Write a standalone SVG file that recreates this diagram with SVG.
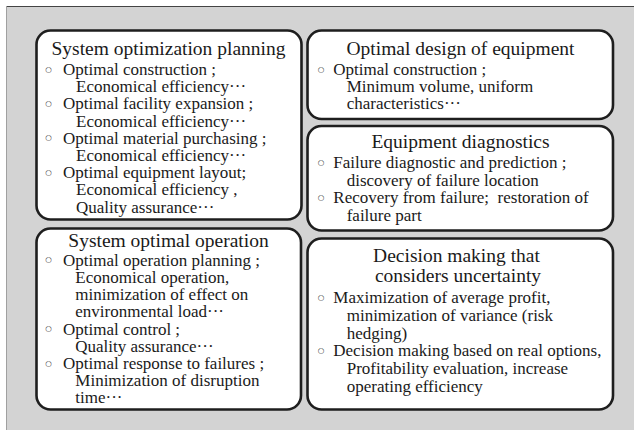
<svg xmlns="http://www.w3.org/2000/svg" width="634" height="430" viewBox="0 0 634 430">
<style>
.box{fill:#ffffff;stroke:#1e1e1e;stroke-width:2.6}
.t{fill:#1a1a1a;font-size:19.5px;text-anchor:middle}
.b{fill:#1a1a1a;font-size:17px}
.o{fill:#333;font-size:7.5px;text-anchor:middle;dominant-baseline:central}
</style>
<rect x="6" y="6" width="628" height="424" fill="#d3d3d3"/>
<line x1="6" y1="6.5" x2="634" y2="6.5" stroke="#444" stroke-width="1.2"/>
<line x1="6.5" y1="6" x2="6.5" y2="430" stroke="#a0a0a0" stroke-width="1"/>

<g font-family="Liberation Serif, DejaVu Serif, serif">
<g id="system-optimization-planning">
<rect class="box" x="36.5" y="30.5" width="265" height="189" rx="14"/>
<text class="t" x="168.5" y="55">System optimization planning</text>
<text class="o" font-family="DejaVu Sans, sans-serif" x="48.5" y="69">○</text>
<text class="b" x="63" y="75">Optimal construction ;</text>
<text class="b" x="76" y="92.2">Economical efficiency···</text>
<text class="o" font-family="DejaVu Sans, sans-serif" x="48.5" y="103.4">○</text>
<text class="b" x="63" y="109.4">Optimal facility expansion ;</text>
<text class="b" x="76" y="126.6">Economical efficiency···</text>
<text class="o" font-family="DejaVu Sans, sans-serif" x="48.5" y="137.8">○</text>
<text class="b" x="63" y="143.8">Optimal material purchasing ;</text>
<text class="b" x="76" y="161">Economical efficiency···</text>
<text class="o" font-family="DejaVu Sans, sans-serif" x="48.5" y="172.2">○</text>
<text class="b" x="63" y="178.2">Optimal equipment layout;</text>
<text class="b" x="76" y="195.4">Economical efficiency ,</text>
<text class="b" x="76" y="212.6">Quality assurance···</text>
</g>

<g id="optimal-design-of-equipment">
<rect class="box" x="307.5" y="30.5" width="305.5" height="88.5" rx="14"/>
<text class="t" x="460.5" y="55">Optimal design of equipment</text>
<text class="o" font-family="DejaVu Sans, sans-serif" x="321" y="69">○</text>
<text class="b" x="333.3" y="75">Optimal construction ;</text>
<text class="b" x="346.7" y="92.2">Minimum volume, uniform</text>
<text class="b" x="346.7" y="109.4">characteristics···</text>
</g>

<g id="equipment-diagnostics">
<rect class="box" x="307.5" y="126" width="305.5" height="104.5" rx="14"/>
<text class="t" x="460.5" y="148.3">Equipment diagnostics</text>
<text class="o" font-family="DejaVu Sans, sans-serif" x="321" y="162.3">○</text>
<text class="b" x="333.3" y="168.3">Failure diagnostic and prediction ;</text>
<text class="b" x="346.7" y="185.7">discovery of failure location</text>
<text class="o" font-family="DejaVu Sans, sans-serif" x="321" y="197.2">○</text>
<text class="b" x="333.3" y="203.2" xml:space="preserve">Recovery from failure;  restoration of</text>
<text class="b" x="346.7" y="220.7">failure part</text>
</g>

<g id="system-optimal-operation">
<rect class="box" x="36.5" y="228.5" width="264.5" height="181" rx="14"/>
<text class="t" x="168.5" y="247.3">System optimal operation</text>
<text class="o" font-family="DejaVu Sans, sans-serif" x="48.5" y="259.8">○</text>
<text class="b" x="63" y="265.8">Optimal operation planning ;</text>
<text class="b" x="75.3" y="283">Economical operation,</text>
<text class="b" x="75.3" y="300.2">minimization of effect on</text>
<text class="b" x="75.3" y="317.4">environmental load···</text>
<text class="o" font-family="DejaVu Sans, sans-serif" x="48.5" y="328.6">○</text>
<text class="b" x="63" y="334.6">Optimal control ;</text>
<text class="b" x="75.3" y="351.8">Quality assurance···</text>
<text class="o" font-family="DejaVu Sans, sans-serif" x="48.5" y="363">○</text>
<text class="b" x="63" y="369">Optimal response to failures ;</text>
<text class="b" x="75.3" y="386.2">Minimization of disruption</text>
<text class="b" x="75.3" y="403.4">time···</text>
</g>

<g id="decision-making-uncertainty">
<rect class="box" x="307.5" y="238.5" width="305.5" height="171" rx="14"/>
<text class="t" x="456.5" y="261.7">Decision making that</text>
<text class="t" x="458" y="281.7">considers uncertainty</text>
<text class="o" font-family="DejaVu Sans, sans-serif" x="321" y="297.3">○</text>
<text class="b" x="333.3" y="303.3">Maximization of average profit,</text>
<text class="b" x="346.7" y="321">minimization of variance (risk</text>
<text class="b" x="346.7" y="338.7">hedging)</text>
<text class="o" font-family="DejaVu Sans, sans-serif" x="321" y="350.4">○</text>
<text class="b" x="333.3" y="356.4">Decision making based on real options,</text>
<text class="b" x="346.7" y="374.1">Profitability evaluation, increase</text>
<text class="b" x="346.7" y="391.8">operating efficiency</text>
</g>
</g>

<g id="connectors"></g>
</svg>
